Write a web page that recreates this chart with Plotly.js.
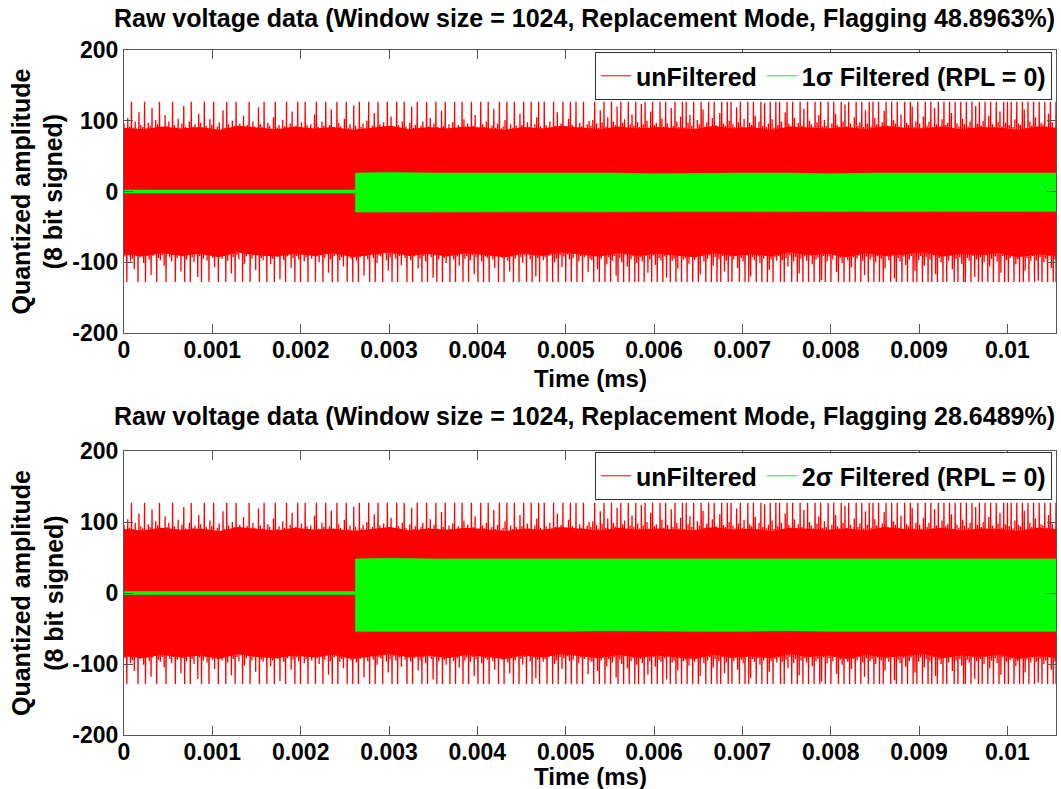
<!DOCTYPE html>
<html>
<head>
<meta charset="utf-8">
<script src="https://cdn.plot.ly/plotly-3.0.1.min.js"></script>
<style>html,body{margin:0;padding:0;background:#fff;}#chart{width:1061px;height:789px;}</style>
</head>
<body>
<div id="chart"></div>
<script>
// ---- data ----
const timeEnd = 0.01055; // ms, end of the record
// upper peaks of the unfiltered signal (same data in both panels)
const redUpper = [
96,88,104,92,127,90,99,87,112,94,91,127,89,97,93,118,88,101,95,127,90,86,108,93,99,
89,127,94,90,103,88,96,121,91,87,99,127,92,95,88,110,97,90,127,93,89,102,94,127,88,
92,98,87,115,90,127,95,89,100,93,127,88,96,91,107,87,94,127,90,99,92,88,119,95,91,
127,89,97,93,88,105,127,90,94,87,101,92,127,89,96,113,88,93,127,90,98,87,127,94,90,
95,88,109,127,91,86,99,93,127,89,94,116,90,88,127,97,92,87,103,127,90,95,89,122,93,
88,127,91,96,89,100,127,87,93,111,90,127,95,88,98,92,127,89,106,91,87,127,94,90,99,
127,92,88,97,120,90,94,127,87,93,99,89,127,92,104,88,96,127,91,87,114,93,127,89,95,
90,98,127,88,94,91,127,102,89,96,87,127,93,108,90,88,127,95,91,99,127,88,93,117,90,
96,127,89,92,101,127,88,95,90,127,93,87,110,94,127,89,98,91,127,88,95,105,127,92,89,
127,94,90,99,88,127,93,112,89,96,127,90,87,103,127,94,91,127,88,97,92,127,90,95,100,
93,101,127,96,90,115,98,127,92,105,89,127,99,94,120,91,127,97,102,88,127,95,109,93,127,
98,91,124,95,127,100,89,113,127,94,97,90,127,103,92,127,96,88,118,93,127,99,91,106,127,
90,127,97,108,93,127,89,101,95,127,116,92,98,127,90,104,127,94,89,111,127,96,93,127,100,
127,95,91,119,98,127,92,103,90,127,97,94,127,107,89,99,127,93,125,91,96,127,102,90,127,
94,127,99,90,112,127,96,92,127,104,88,97,127,93,117,90,127,100,95,91,127,98,108,127,92,
101,93,127,89,96,127,110,94,91,127,99,123,92,127,96,90,105,127,93,98,127,91,115,96,127,
92,127,104,95,127,90,98,114,127,93,89,127,101,96,127,92,109,90,127,97,94,127,120,91,99,
127,96,90,106,127,93,99,127,91,118,95,127,88,102,127,94,97,127,111,90,127,96,92,127,103,
95,127,92,99,127,89,121,96,127,93,100,127,90,107,127,95,91,127,98,113,92,127,97,127,94,
127,91,102,127,96,94,127,116,90,127,99,93,127,105,91,127,97,95,127,92,110,127,98,90,127
];
// lower peaks of the unfiltered signal
const redLower = [
-92,-128,-88,-99,-95,-110,-87,-128,-93,-90,-101,-128,-89,-96,-118,-91,-88,-128,-94,-97,-90,-105,-128,-88,-93,
-99,-90,-128,-94,-87,-113,-92,-128,-96,-89,-128,-93,-100,-88,-121,-91,-128,-95,-90,-98,-128,-87,-94,-107,-92,
-128,-89,-95,-91,-128,-98,-88,-116,-93,-128,-90,-96,-87,-128,-102,-92,-89,-128,-95,-90,-111,-88,-128,-94,-97,
-91,-128,-88,-103,-95,-128,-90,-93,-124,-89,-97,-128,-92,-88,-108,-94,-128,-91,-96,-128,-89,-99,-93,-128,-90,
-95,-88,-128,-92,-100,-90,-128,-94,-87,-115,-96,-128,-91,-89,-128,-97,-93,-106,-88,-128,-92,-95,-128,-90,-98,
-128,-93,-89,-119,-91,-96,-128,-88,-94,-128,-101,-90,-92,-128,-87,-97,-112,-93,-128,-89,-95,-128,-91,-104,-88,
-94,-128,-90,-97,-128,-92,-88,-109,-95,-128,-91,-99,-128,-89,-93,-122,-90,-128,-96,-88,-128,-94,-101,-91,-128,
-89,-96,-128,-92,-105,-88,-128,-95,-91,-128,-97,-90,-117,-93,-128,-88,-99,-128,-92,-94,-128,-89,-96,-108,-91,
-128,-90,-94,-128,-88,-98,-113,-92,-128,-95,-89,-128,-93,-101,-90,-128,-87,-96,-128,-91,-120,-94,-128,-89,-97,
-93,-128,-91,-88,-128,-100,-95,-128,-90,-107,-92,-128,-89,-96,-128,-94,-88,-128,-99,-91,-128,-93,-90,-114,-95,
-97,-128,-92,-110,-128,-95,-90,-128,-103,-93,-128,-98,-91,-119,-128,-94,-100,-128,-89,-106,-128,-96,-92,-128,-101,
-128,-93,-99,-128,-91,-115,-96,-128,-90,-104,-128,-94,-97,-128,-92,-122,-89,-128,-98,-95,-128,-109,-91,-128,-96,
-94,-128,-102,-90,-128,-97,-93,-128,-117,-91,-99,-128,-95,-90,-128,-105,-93,-128,-96,-128,-91,-113,-98,-128,-92,
-128,-96,-91,-108,-128,-94,-99,-128,-90,-128,-120,-93,-97,-128,-92,-101,-128,-95,-90,-128,-111,-96,-128,-93,-98,
-91,-128,-97,-128,-94,-106,-90,-128,-99,-93,-128,-116,-95,-128,-92,-98,-128,-90,-103,-128,-96,-93,-128,-125,-91,
-128,-99,-92,-128,-96,-90,-114,-128,-94,-101,-128,-91,-97,-128,-107,-93,-128,-95,-90,-128,-98,-118,-92,-128,-96,
-93,-128,-100,-91,-128,-95,-128,-109,-92,-97,-128,-90,-123,-128,-94,-99,-128,-92,-104,-128,-96,-91,-128,-112,-128,
-97,-91,-128,-105,-93,-128,-96,-128,-90,-117,-128,-94,-100,-128,-92,-128,-98,-91,-110,-128,-95,-128,-93,-102,-128,
-128,-94,-98,-128,-91,-121,-96,-128,-93,-128,-100,-90,-128,-106,-95,-128,-92,-99,-128,-115,-91,-128,-97,-128,-94,
-92,-128,-103,-96,-128,-90,-128,-112,-94,-128,-98,-91,-128,-97,-126,-93,-128,-100,-95,-128,-91,-108,-128,-96,-128
];
// edge of the dense (solid) part of the unfiltered band
const redCoreUpper = [90,88,92,89,91,87,93,90,88,92,89,91,87,90,93,88,91,89,92,90,87,91,89,93,90,88,92,89,91,90,88,93,89,91,87,92,90,89,91,88,93,90,89,92,88,91,90,87,92,90];
const redCoreLower = [-89,-92,-87,-91,-88,-93,-86,-90,-92,-88,-91,-87,-93,-89,-86,-91,-88,-92,-87,-90,-93,-88,-91,-86,-89,-92,-87,-91,-88,-90,-93,-87,-91,-89,-92,-86,-90,-88,-93,-87,-91,-89,-86,-92,-88,-90,-87,-93,-89,-91];
// filtered signal envelope (times in ms)
const greenTime = [0,0.0005,0.001,0.0015,0.002,0.0025,0.00262,0.00262,0.003,0.0035,0.004,0.0045,0.005,0.0055,0.006,0.0065,0.007,0.0075,0.008,0.0085,0.009,0.0095,0.01,0.01055];
const g1Upper = [2,2,2,2,2,2,2,26,27,26,26,27,26,26,25,26,26,26,25,26,26,26,26,26];
const g1Lower = [-2,-2,-2,-2,-2,-2,-2,-29,-29,-28,-29,-29,-28,-29,-28,-28,-28,-29,-28,-28,-28,-28,-29,-28];
const g2Upper = [2,2,2,2,2,2,2,48,49,48,48,48,48,48,47,48,48,48,47,48,48,48,48,48];
const g2Lower = [-2,-2,-2,-2,-2,-2,-2,-54,-54,-54,-55,-54,-54,-53,-54,-54,-54,-53,-54,-54,-53,-54,-54,-54];
const titles = [
  'Raw voltage data (Window size = 1024, Replacement Mode, Flagging 48.8963%)',
  'Raw voltage data (Window size = 1024, Replacement Mode, Flagging 28.6489%)'
];
const legendNames = ['unFiltered', '1\u03c3 Filtered (RPL = 0)', '2\u03c3 Filtered (RPL = 0)'];
const xTitle = 'Time (ms)';
const yTitle = 'Quantized amplitude<br>(8 bit signed)';
const yTickVals = [-200,-100,0,100,200];
const yTickText = ['-200','-100','0','100','200'];

// ---- build ----
const dt = timeEnd / (redUpper.length - 1);
const redTime = redUpper.map((_, i) => i * dt);
// signal trace: alternate each upper peak with the following lower peak
const sigX = [], sigY = [];
redUpper.forEach((u, i) => { sigX.push(redTime[i]); sigY.push(u); sigX.push(Math.min(redTime[i] + dt / 2, timeEnd)); sigY.push(redLower[i]); });
const cdt = timeEnd / (redCoreUpper.length - 1);
const coreTime = redCoreUpper.map((_, i) => i * cdt);
const RED = '#ff0000', GREEN = '#00ff00';
const FAM = 'Liberation Sans, Arial, Helvetica, sans-serif';

function panel(xa, ya, gU, gL, leg, gName) {
  return [
    {x: coreTime, y: redCoreLower, xaxis: xa, yaxis: ya, mode: 'lines', line: {color: RED, width: 0}, showlegend: false, hoverinfo: 'skip'},
    {x: coreTime, y: redCoreUpper, xaxis: xa, yaxis: ya, mode: 'lines', fill: 'tonexty', fillcolor: RED, line: {color: RED, width: 0}, showlegend: false, hoverinfo: 'skip'},
    {x: sigX, y: sigY, xaxis: xa, yaxis: ya, mode: 'lines', line: {color: RED, width: 1.3}, showlegend: false, hoverinfo: 'skip'},
    {x: greenTime, y: gL, xaxis: xa, yaxis: ya, mode: 'lines', line: {color: GREEN, width: 0.6}, showlegend: false, hoverinfo: 'skip'},
    {x: greenTime, y: gU, xaxis: xa, yaxis: ya, mode: 'lines', fill: 'tonexty', fillcolor: GREEN, line: {color: GREEN, width: 0.6}, showlegend: false, hoverinfo: 'skip'},
    {x: [null], y: [null], xaxis: xa, yaxis: ya, mode: 'lines', name: legendNames[0], line: {color: RED, width: 1}, legend: leg},
    {x: [null], y: [null], xaxis: xa, yaxis: ya, mode: 'lines', name: gName, line: {color: GREEN, width: 1}, legend: leg}
  ];
}
const data = [].concat(
  panel('x', 'y', g1Upper, g1Lower, 'legend', legendNames[1]),
  panel('x2', 'y2', g2Upper, g2Lower, 'legend2', legendNames[2])
);

const tickFont = {family: FAM, size: 23, color: '#000', weight: 'bold'};
function xax(anchor) {
  return {anchor: anchor, range: [0, timeEnd], dtick: 0.001, tick0: 0, ticks: 'inside', ticklen: 9, tickcolor: '#555',
    showline: true, mirror: 'ticks', linecolor: '#555', linewidth: 1, showgrid: false, zeroline: false,
    tickfont: tickFont, ticklabelstandoff: -4};
}
function yax(anchor, dom) {
  return {anchor: anchor, domain: dom, range: [-200, 200], tickvals: yTickVals, ticktext: yTickText, ticks: 'inside', ticklen: 9, tickcolor: '#555',
    showline: true, mirror: 'ticks', linecolor: '#555', linewidth: 1, showgrid: false, zeroline: false,
    tickfont: tickFont};
}
const W = 1061, H = 789, L = 124, R = 5, T = 50, B = 54;
const pw = W - L - R, ph = H - T - B;
const px = v => (v - L) / pw, py = v => (H - B - v) / ph;
const titleFont = {family: FAM, size: 25, color: '#000', weight: 'bold'};
const axTitleFont = {family: FAM, size: 24, color: '#000', weight: 'bold'};
const legFont = {family: FAM, size: 25, color: '#000', weight: 'bold'};
const legBase = {xanchor: 'right', yanchor: 'top', orientation: 'h', traceorder: 'normal', bgcolor: '#fff', bordercolor: '#333', borderwidth: 1, font: legFont, itemwidth: 30, tracegroupgap: 0};
const layout = {
  width: W, height: H, margin: {l: L, r: R, t: T, b: B},
  paper_bgcolor: '#fff', plot_bgcolor: '#fff',
  xaxis: xax('y'), yaxis: yax('x', [py(333), 1]),
  xaxis2: xax('y2'), yaxis2: yax('x2', [0, py(451)]),
  legend: Object.assign({x: px(1052), y: py(52)}, legBase),
  legend2: Object.assign({x: px(1052), y: py(452)}, legBase),
  annotations: [
    {text: titles[0], xref: 'paper', yref: 'paper', x: px(584), y: py(18), xanchor: 'center', yanchor: 'middle', showarrow: false, font: titleFont},
    {text: titles[1], xref: 'paper', yref: 'paper', x: px(584), y: py(416), xanchor: 'center', yanchor: 'middle', showarrow: false, font: titleFont},
    {text: xTitle, xref: 'paper', yref: 'paper', x: px(590), y: py(378), xanchor: 'center', yanchor: 'middle', showarrow: false, font: axTitleFont},
    {text: xTitle, xref: 'paper', yref: 'paper', x: px(590), y: py(776), xanchor: 'center', yanchor: 'middle', showarrow: false, font: axTitleFont},
    {text: yTitle, xref: 'paper', yref: 'paper', x: px(37), y: py(191.5), xanchor: 'center', yanchor: 'middle', textangle: -90, showarrow: false, font: titleFont},
    {text: yTitle, xref: 'paper', yref: 'paper', x: px(37), y: py(593), xanchor: 'center', yanchor: 'middle', textangle: -90, showarrow: false, font: titleFont}
  ]
};
Plotly.newPlot('chart', data, layout, {staticPlot: true, displayModeBar: false});
</script>
</body>
</html>
